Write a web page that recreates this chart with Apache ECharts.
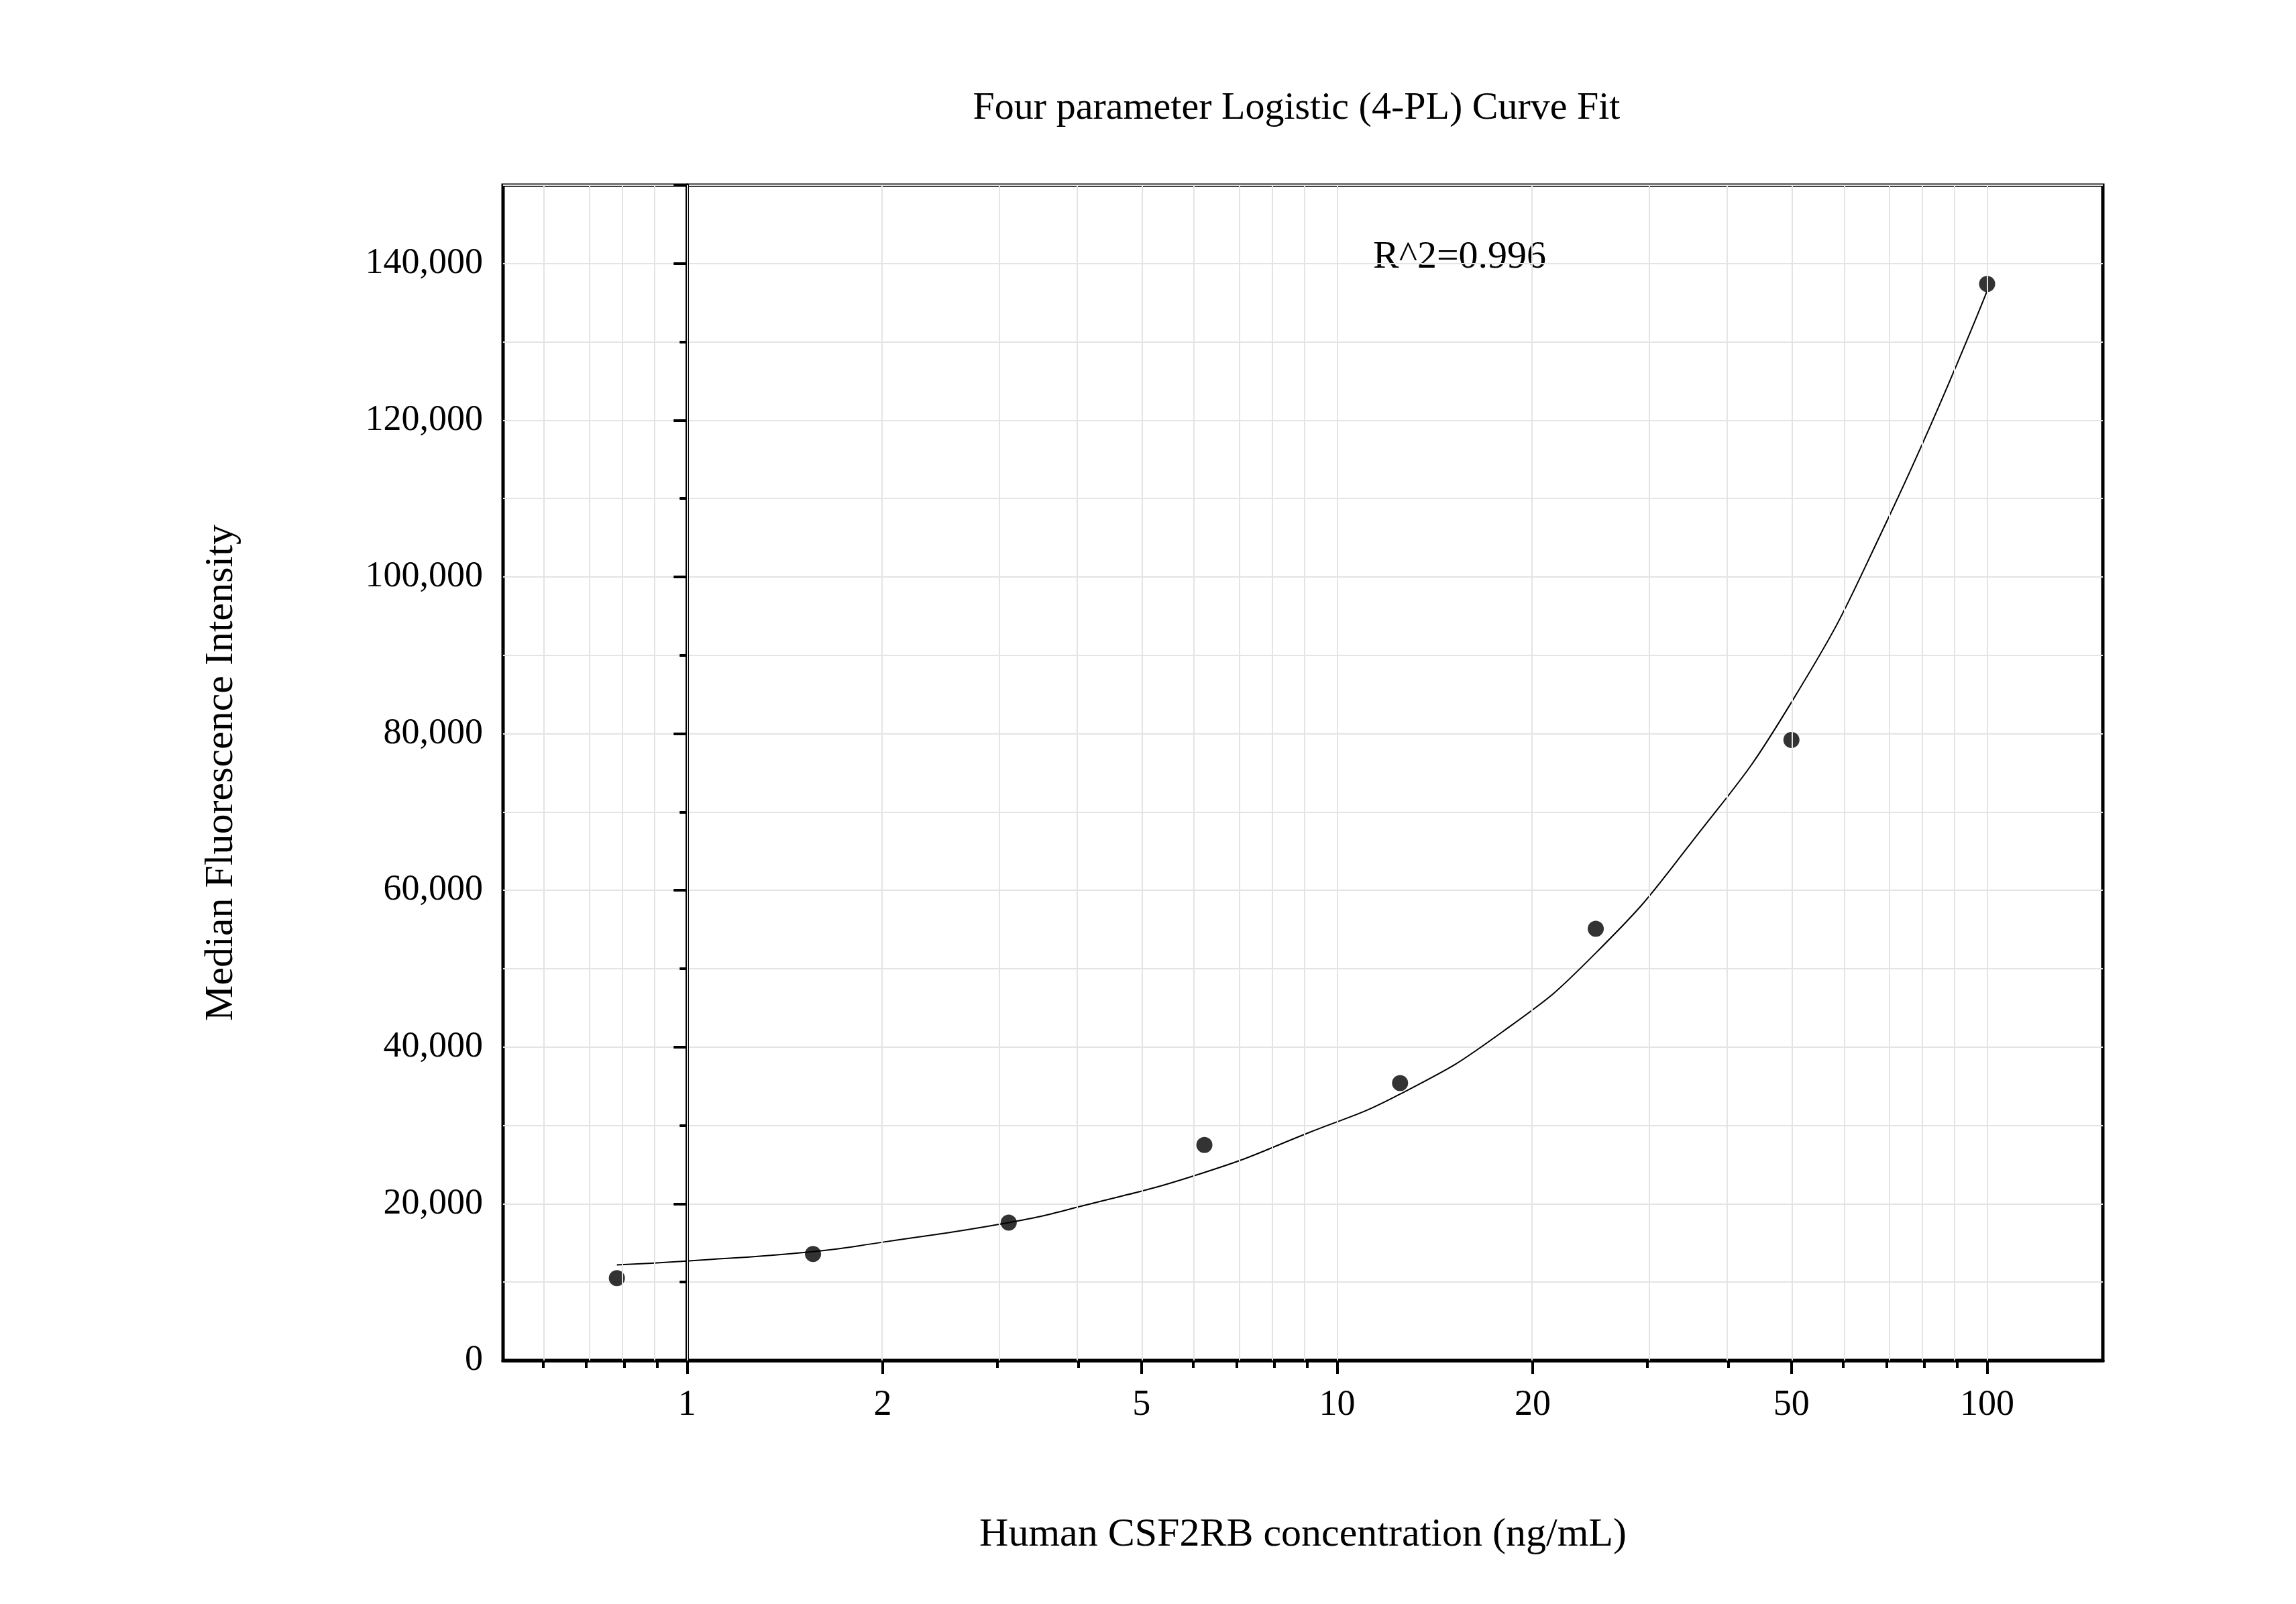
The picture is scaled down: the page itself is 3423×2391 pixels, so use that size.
<!DOCTYPE html>
<html><head><meta charset="utf-8">
<script src="https://cdn.jsdelivr.net/npm/echarts@6/dist/echarts.min.js"></script>
<style>html,body{margin:0;padding:0;background:#fff}#c{width:3423px;height:2391px}</style>
</head><body><div id="c"></div>
<script>
const concentrations = [0.78, 1.5625, 3.125, 6.25, 12.5, 25, 50, 100];
const mfi = [10500, 13600, 17600, 27500, 35400, 55100, 79200, 137400];
const curveX = [0.78, 1, 1.5625, 2, 3.125, 4, 6.25, 9, 12.5, 18, 25, 35, 50, 70, 100];
const curveY = [12200, 12700, 13900, 15100, 17600, 19600, 24000, 29000, 34000, 42000, 52000, 66000, 84000, 107000, 136500];
const majorTicks = [1, 2, 5, 10, 20, 50, 100];
const minorTicks = [0.6, 0.7, 0.8, 0.9, 3, 4, 6, 7, 8, 9, 30, 40, 60, 70, 80, 90];
const allGrid = [0.6,0.7,0.8,0.9,1,2,3,4,5,6,7,8,9,10,20,30,40,50,60,70,80,90,100];
const L = Math.log10;
const font = 'Liberation Serif';
const xMin = -0.283, xMax = 2.178;
const chart = echarts.init(document.getElementById('c'));
chart.setOption({
  animation:false,
  title:{text:'Four parameter Logistic (4-PL) Curve Fit',left:1928,top:128,textAlign:'center',
    textStyle:{fontFamily:font,fontSize:58,fontWeight:'normal',color:'#000'}},
  grid:{left:750,right:288,top:276,bottom:363,show:true,borderColor:'#000',borderWidth:5,backgroundColor:'transparent'},
  graphic:[{type:'text',left:2047,top:355,style:{text:'R^2=0.996',font:'58px "Liberation Serif"',fill:'#000'}}],
  xAxis:[{type:'value',min:xMin,max:xMax,
    name:'Human CSF2RB concentration (ng/mL)',nameLocation:'middle',nameGap:230,
    nameTextStyle:{fontFamily:font,fontSize:60,color:'#000'},
    axisLine:{lineStyle:{color:'#000',width:5}},
    axisTick:{customValues:majorTicks.map(L),length:20,lineStyle:{color:'#000',width:4}},
    axisLabel:{customValues:majorTicks.map(L),formatter:v=>String(Math.round(Math.pow(10,v))),
      fontFamily:font,fontSize:54,color:'#000',margin:40},
    splitLine:{show:false}},
   {type:'value',min:xMin,max:xMax,position:'bottom',
    axisLine:{show:false},
    axisTick:{customValues:minorTicks.map(L),length:11,lineStyle:{color:'#000',width:4}},
    axisLabel:{show:false},splitLine:{show:false}}],
  yAxis:{type:'value',min:0,max:150000,interval:20000,
    name:'Median Fluorescence Intensity',nameLocation:'middle',nameGap:390,
    nameTextStyle:{fontFamily:font,fontSize:60,color:'#000'},
    axisLine:{show:true,lineStyle:{color:'#000',width:5}},
    axisTick:{show:true,length:20,lineStyle:{color:'#000',width:4}},
    minorTick:{show:true,splitNumber:2,length:11,lineStyle:{color:'#000',width:4}},
    axisLabel:{fontFamily:font,fontSize:54,color:'#000',margin:30,showMaxLabel:false},
    splitLine:{show:true,lineStyle:{color:'#e4e4e4',width:2}},
    minorSplitLine:{show:true,lineStyle:{color:'#e4e4e4',width:2}}},
  series:[
    {type:'line',data:[],z:0,silent:true,
      markLine:{silent:true,symbol:'none',label:{show:false},
        lineStyle:{color:'#e4e4e4',width:2,type:'solid'},
        data:allGrid.map(v=>({xAxis:L(v)}))}},
    {type:'line',smooth:true,showSymbol:false,z:3,
      data:curveX.map((x,i)=>[L(x),curveY[i]]),lineStyle:{color:'#000',width:2}},
    {type:'scatter',symbolSize:24,z:4,itemStyle:{color:'#000'},
      data:concentrations.map((x,i)=>[L(x),mfi[i]])}
  ]
});
</script></body></html>
